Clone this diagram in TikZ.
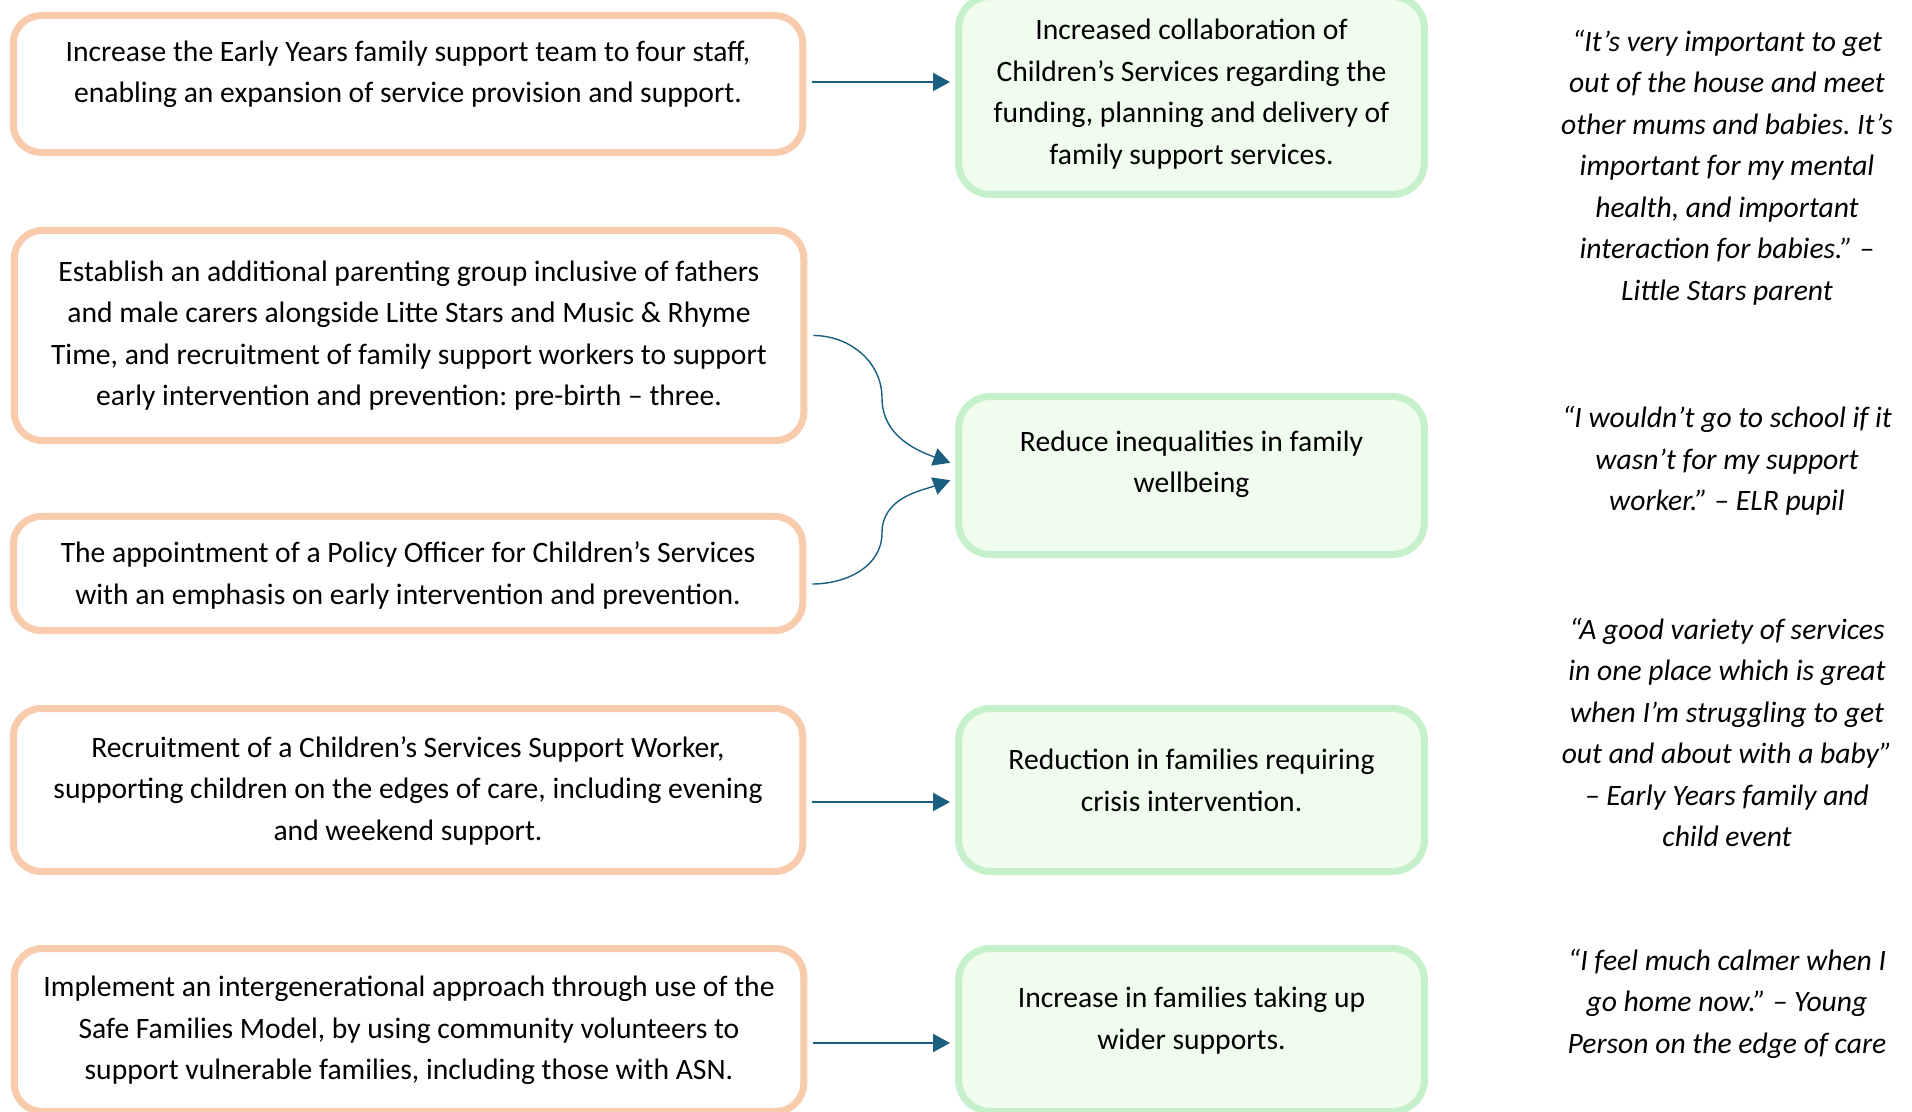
\documentclass[tikz,border=0pt]{standalone}
\usepackage{fontspec}
\setmainfont{Carlito}
\usetikzlibrary{arrows.meta}
\definecolor{orangeline}{RGB}{248,203,173}
\definecolor{greenline}{RGB}{197,240,203}
\definecolor{greenfill}{RGB}{240,252,238}
\definecolor{arrowblue}{RGB}{26,94,128}
\frenchspacing
\begin{document}
\begin{tikzpicture}[x=0.5pt, y=-0.5pt,
            font=\fontsize{14.8}{20.75}\selectfont,
            inbox/.style={draw=orangeline, line width=3.5pt, rounded corners=14pt,
            fill=white, minimum width=394.75pt, inner sep=0pt},
            outbox/.style={draw=greenline, line width=3.5pt, rounded corners=16pt,
            fill=greenfill, minimum width=233pt, inner sep=0pt},
            txt/.style={align=center, inner sep=0pt, yshift=-1.25pt},
            quotetxt/.style={txt, font=\fontsize{14.8}{20.75}\selectfont\itshape},
            ar/.style={draw=arrowblue, line width=1.1pt,
            -{Triangle[length=8.5pt,width=9pt]}, shorten >=2.5pt},
            curvear/.style={ar, line width=0.7pt}
        ]
            \useasboundingbox (0,0) rectangle (1912,1112);
            \clip (0,0) rectangle (1912,1112);
% actions (left column)
            \node[inbox, minimum height=68.5pt]   (in1) at (408,84)     {};
            \node[txt] (in1t) at (408,72)   {Increase the Early Years family support team to four staff,\\enabling an expansion of service provision and support.};
            \node[inbox, minimum height=105pt]    (in2) at (409,335.5)  {};
            \node[txt] (in2t) at (409,333)  {Establish an additional parenting group inclusive of fathers\\and male carers alongside Litte Stars and Music \& Rhyme\\Time, and recruitment of family support workers to support\\early intervention and prevention: pre-birth – three.};
            \node[inbox, minimum height=57pt]     (in3) at (408,573.5)  {};
            \node[txt] (in3t) at (408,573)  {The appointment of a Policy Officer for Children’s Services\\with an emphasis on early intervention and prevention.};
            \node[inbox, minimum height=81.5pt]   (in4) at (408,790)    {};
            \node[txt] (in4t) at (408,788)  {Recruitment of a Children’s Services Support Worker,\\supporting children on the edges of care, including evening\\and weekend support.};
            \node[inbox, minimum height=81.5pt]   (in5) at (409,1030)   {};
            \node[txt] (in5t) at (409,1028) {Implement an intergenerational approach through use of the\\Safe Families Model, by using community volunteers to\\support vulnerable families, including those with ASN.};
% outcomes (middle column)
            \node[outbox, minimum height=99pt]    (out1) at (1191.5,95.5)  {};
            \node[txt] (out1t) at (1191.5,91.5) {Increased collaboration of\\Children’s Services regarding the\\funding, planning and delivery of\\family support services.};
            \node[outbox, minimum height=79pt]    (out2) at (1191.5,475.5) {};
            \node[txt] (out2t) at (1191.5,462)  {Reduce inequalities in family\\wellbeing};
            \node[outbox, minimum height=81.5pt]  (out3) at (1191.5,790)   {};
            \node[txt] (out3t) at (1191.5,778)  {Reduction in families requiring\\crisis intervention.};
            \node[outbox, minimum height=81.5pt]  (out4) at (1191.5,1030)  {};
            \node[txt] (out4t) at (1191.5,1018) {Increase in families taking up\\wider supports.};
% quotes (right column)
            \node[quotetxt] (q1) at (1727,165)   {“It’s very important to get\\out of the house and meet\\other mums and babies. It’s\\important for my mental\\health, and important\\interaction for babies.” –\\Little Stars parent};
            \node[quotetxt] (q2) at (1727,458.5) {“I wouldn’t go to school if it\\wasn’t for my support\\worker.” – ELR pupil};
            \node[quotetxt] (q3) at (1727,730)   {“A good variety of services\\in one place which is great\\when I’m struggling to get\\out and about with a baby”\\– Early Years family and\\child event};
            \node[quotetxt] (q4) at (1727,1001)  {“I feel much calmer when I\\go home now.” – Young\\Person on the edge of care};
% connectors
            \coordinate (k2) at (882,398);
            \coordinate (k3) at (882,533);
            \draw[ar] ([shift={(3pt,1pt)}]in1.east) coordinate (a1) -- (a1 -| out1.west);
            \draw[curvear] ([xshift=3pt]in2.east) to[out=0,in=90] (k2)
                to[out=-90,in=160] ([yshift=5.5pt]out2.west);
            \draw[curvear] ([shift={(3pt,-5.25pt)}]in3.east) to[out=0,in=-90] (k3)
                to[out=90,in=200] ([yshift=-1.5pt]out2.west);
            \draw[ar] ([shift={(3pt,-6pt)}]in4.east) coordinate (a4) -- (a4 -| out3.west);
            \draw[ar] ([shift={(3pt,-6.5pt)}]in5.east) coordinate (a5) -- (a5 -| out4.west);
        \end{tikzpicture}
\end{document}
